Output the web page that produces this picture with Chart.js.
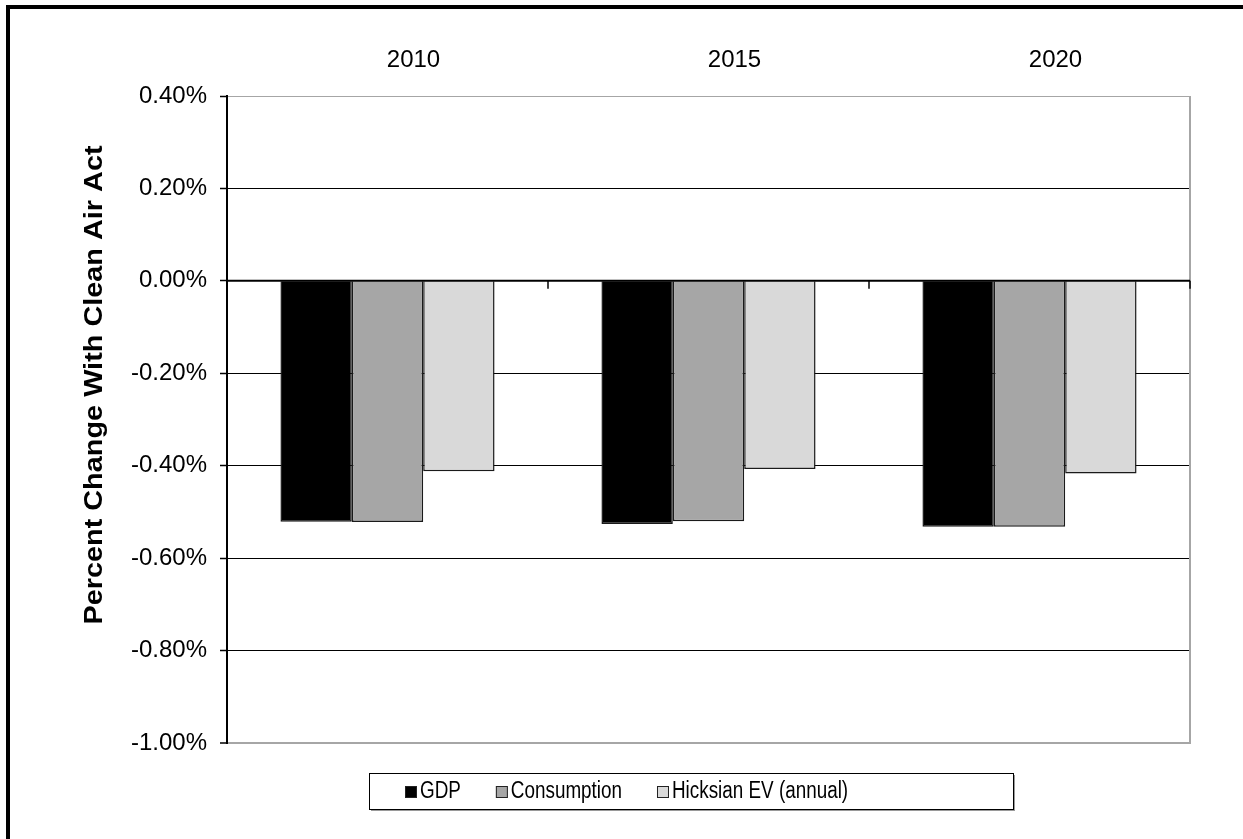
<!DOCTYPE html>
<html>
<head>
<meta charset="utf-8">
<script src="https://cdn.jsdelivr.net/npm/chart.js@4.4.0/dist/chart.umd.min.js"></script>
<style>
  html, body { margin: 0; padding: 0; background: #fff; }
  #wrap { width: 1243px; height: 839px; position: relative; }
</style>
</head>
<body>
<div id="wrap"><canvas id="myChart"></canvas></div>
<script>
/* data */
var years = ['2010', '2015', '2020'];
var gdp = [-0.521, -0.526, -0.532];
var consumption = [-0.522, -0.520, -0.532];
var hicksian = [-0.412, -0.407, -0.417];
var yTicks = [0.4, 0.2, 0, -0.2, -0.4, -0.6, -0.8, -1.0];
var yTitle = 'Percent Change With Clean Air Act';

var tickFont = { family: 'Liberation Sans, Arial, sans-serif', size: 24 };
var legendFont = '23px "Liberation Sans", Arial, sans-serif';

function near(a, b) { return Math.abs(a - b) < 1e-9; }

/* outer frame, left + top only */
var framePlugin = {
  id: 'frame',
  afterDraw: function (chart) {
    var c = chart.ctx;
    c.save();
    c.fillStyle = '#000';
    c.fillRect(6, 5, 4, 834);
    c.fillRect(6, 5, 1237, 4);
    c.restore();
  }
};

/* gray right edge of the plot area */
var plotEdge = {
  id: 'plotEdge',
  beforeDatasetsDraw: function (chart) {
    var a = chart.chartArea, c = chart.ctx;
    c.save();
    c.strokeStyle = '#a6a6a6';
    c.lineWidth = 2;
    c.beginPath();
    c.moveTo(a.right, a.top);
    c.lineTo(a.right, a.bottom + 1);
    c.stroke();
    c.restore();
  }
};

/* zero line with category tick marks */
var zeroLine = {
  id: 'zeroLine',
  afterDatasetsDraw: function (chart) {
    var x = chart.scales.x, y = chart.scales.y, c = chart.ctx;
    var y0 = y.getPixelForValue(0);
    c.save();
    c.strokeStyle = '#000';
    c.lineWidth = 2;
    c.beginPath();
    c.moveTo(chart.chartArea.left, y0);
    c.lineTo(chart.chartArea.right, y0);
    c.stroke();
    c.lineWidth = 1.5;
    for (var i = 0; i < years.length; i++) {
      var bx;
      if (i < years.length - 1) {
        bx = (x.getPixelForValue(i) + x.getPixelForValue(i + 1)) / 2;
      } else {
        bx = x.getPixelForValue(i) + (x.getPixelForValue(i) - x.getPixelForValue(i - 1)) / 2;
      }
      c.beginPath();
      c.moveTo(bx, y0);
      c.lineTo(bx, y0 + 8);
      c.stroke();
    }
    c.restore();
  }
};

/* rotated y title */
var yTitlePlugin = {
  id: 'yTitleText',
  afterDraw: function (chart) {
    var c = chart.ctx;
    c.save();
    c.translate(95, 385);
    c.rotate(-Math.PI / 2);
    c.scale(1.11, 1);
    c.font = 'bold 26px "Liberation Sans", Arial, sans-serif';
    c.fillStyle = '#000';
    c.textAlign = 'center';
    c.textBaseline = 'middle';
    c.fillText(yTitle, 0, 0);
    c.restore();
  }
};

/* boxed legend under the plot */
var boxLegend = {
  id: 'boxLegend',
  afterDraw: function (chart) {
    var c = chart.ctx;
    var left = 369, top = 773, w = 644, h = 36;
    var squeeze = 0.82;
    c.save();
    c.fillStyle = '#9a9a9a';
    c.fillRect(left + 2, top + 2, w, h);
    c.fillStyle = '#fff';
    c.fillRect(left, top, w, h);
    c.strokeStyle = '#000';
    c.lineWidth = 1;
    c.strokeRect(left + 0.5, top + 0.5, w, h);
    c.font = legendFont;
    c.textBaseline = 'middle';
    var cx = 405, cy = top + h / 2 + 1;
    chart.data.datasets.forEach(function (ds) {
      c.fillStyle = ds.backgroundColor;
      c.fillRect(cx, cy - 6, 12, 12);
      c.strokeStyle = '#222';
      c.strokeRect(cx + 0.5, cy - 5.5, 11, 11);
      c.fillStyle = '#000';
      c.save();
      c.translate(cx + 15, cy);
      c.scale(squeeze, 1);
      c.fillText(ds.label, 0, 0);
      c.restore();
      cx += 15 + c.measureText(ds.label).width * squeeze + 35;
    });
    c.restore();
  }
};

var ctx = document.getElementById('myChart').getContext('2d');
new Chart(ctx, {
  type: 'bar',
  data: {
    labels: years,
    datasets: [
      { label: 'GDP', data: gdp, backgroundColor: '#000000', borderColor: '#1a1a1a', borderWidth: 1.5 },
      { label: 'Consumption', data: consumption, backgroundColor: '#a6a6a6', borderColor: '#1a1a1a', borderWidth: 1.5 },
      { label: 'Hicksian EV (annual)', data: hicksian, backgroundColor: '#d9d9d9', borderColor: '#1a1a1a', borderWidth: 1.5 }
    ]
  },
  options: {
    responsive: true,
    maintainAspectRatio: false,
    animation: false,
    layout: { padding: { left: 0, right: 53, top: 0, bottom: 96 } },
    datasets: { bar: { categoryPercentage: 0.667, barPercentage: 1.0 } },
    plugins: {
      legend: { display: false },
      tooltip: { enabled: false }
    },
    scales: {
      x: {
        position: 'top',
        offset: true,
        grid: { display: false, drawTicks: false },
        border: { display: false },
        ticks: { font: tickFont, color: '#000', padding: 21, labelOffset: 26, maxRotation: 0 },
        afterFit: function (s) { s.height = 96; }
      },
      y: {
        min: -1.0,
        max: 0.4,
        afterBuildTicks: function (s) {
          s.ticks = yTicks.map(function (v) { return { value: v }; });
        },
        afterFit: function (s) { s.width = 227; },
        border: { display: true, color: '#000', width: 2 },
        grid: {
          color: function (c) {
            var v = c.tick ? c.tick.value : 0;
            if (near(v, 0.4) || near(v, -1.0)) return '#a6a6a6';
            return '#000';
          },
          lineWidth: function (c) {
            var v = c.tick ? c.tick.value : 0;
            if (near(v, -1.0)) return 2;
            return 1;
          },
          tickColor: '#000',
          tickLength: 7,
          tickWidth: 1.5
        },
        ticks: {
          font: tickFont,
          color: '#000',
          padding: 13,
          callback: function (v) {
            if (near(v, 0)) v = 0;
            return v.toFixed(2) + '%';
          }
        }
      }
    }
  },
  plugins: [plotEdge, zeroLine, yTitlePlugin, boxLegend, framePlugin]
});
</script>
</body>
</html>
